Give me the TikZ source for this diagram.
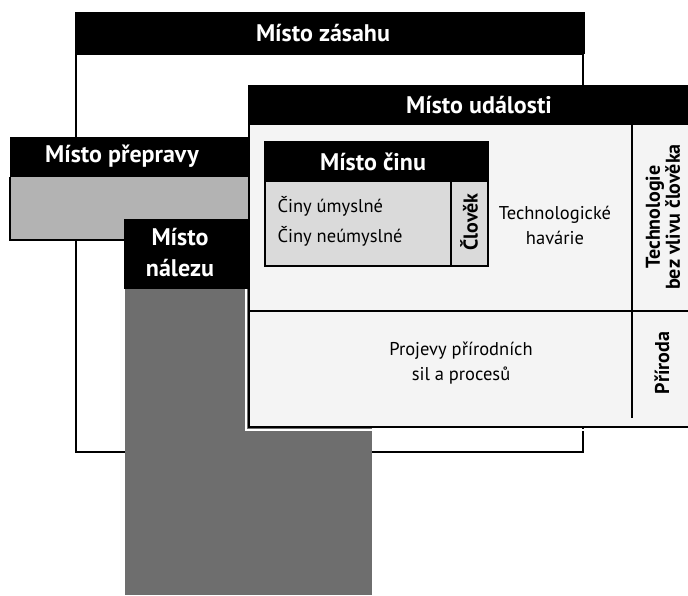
\documentclass[tikz,border=0pt]{standalone}
\usepackage{fontspec}
\setmainfont{PT Sans}
\definecolor{eventgray}{HTML}{F4F4F4}
\definecolor{actgray}{HTML}{DADADA}
\definecolor{transgray}{HTML}{B3B3B3}
\definecolor{findgray}{HTML}{6E6E6E}

\begin{document}
\begin{tikzpicture}[x=1pt,y=-1pt,
    header/.style={font=\bfseries\fontsize{24}{31}\selectfont, text=white, align=center},
    plain/.style={font=\fontsize{18.5}{25}\selectfont, align=center},
    side/.style={font=\bfseries\fontsize{20}{20}\selectfont, rotate=90, align=center},
    frame/.style={line width=2.5pt}]
        % Keep the page at the size of the original
        \useasboundingbox (0,0) rectangle (688,595);

        % Misto zasahu: outer frame
        \draw[line width=2pt] (76,54) rectangle (583,452);
        \fill[black] (75,12) rectangle (585,54);
        \node[header] (zasah) at (323,33) {Místo zásahu};

        % Misto nalezu: grey body below everything else
        \fill[findgray] (125,289) rectangle (372,595);

        % Misto udalosti
        \fill[eventgray] (249,125) rectangle (700,427);
        \draw[white, line width=2pt] (246,126) -- (246,430) -- (700,430);
        \draw[frame] (249,125) -- (249,427) -- (700,427);
        \fill[black] (248,85) rectangle (700,125);
        \draw[frame] (632,125) -- (632,418);
        \draw[frame] (249,311) -- (700,311);
        \node[header] (udalost) at (479,105) {Místo události};

        % Misto prepravy
        \fill[transgray] (10,177) rectangle (248,240);
        \draw[line width=1.5pt] (10,177) -- (10,240) -- (125,240);
        \fill[black] (10,137) rectangle (248,177);
        \node[header] (preprava) at (122,156) {Místo přepravy};

        % Misto nalezu: black label box
        \fill[black] (124,219) rectangle (248,289);
        \node[header] (nalez) at (180,253) {Místo\\nálezu};

        % Misto cinu
        \fill[actgray] (265,182) rectangle (488,266);
        \fill[black] (265,142) rectangle (488,182);
        \draw[line width=2pt] (265,142) rectangle (488,266);
        \draw[line width=2pt] (451,182) -- (451,266);
        \node[header] (cin) at (373,162) {Místo činu};
        \node[plain, anchor=west] (umysl) at (274,206) {Činy úmyslné};
        \node[plain, anchor=west] (neumysl) at (274,236) {Činy neúmyslné};
        \node[side] (clovek) at (469,222) {Člověk};

        % Labels of the event area
        \node[plain] (havarie) at (555,225) {Technologické\\havárie};
        \node[plain] (projevy) at (461,363) {Projevy přírodních\\sil a procesů};
        \node[side] (technologie) at (663,217) {Technologie\\bez vlivu člověka};
        \node[side] (priroda) at (662,363) {Příroda};
    \end{tikzpicture}
\end{document}
